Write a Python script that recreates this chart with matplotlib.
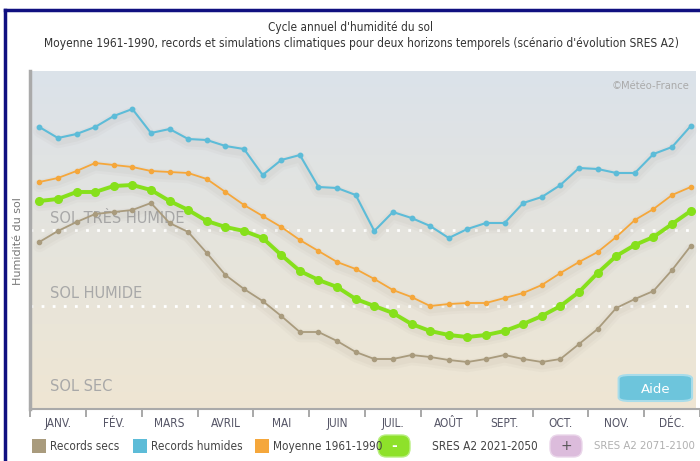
import numpy as np
import matplotlib
matplotlib.use("Agg")
import matplotlib.pyplot as plt
import matplotlib.patheffects as pe
from matplotlib.colors import LinearSegmentedColormap
from matplotlib.patches import Rectangle, FancyBboxPatch

# soil humidity index, 3 values per month (decades)
mois = ["JANV.", "FÉV.", "MARS", "AVRIL", "MAI", "JUIN", "JUIL.", "AOÛT", "SEPT.", "OCT.", "NOV.", "DÉC."]

records_humides = [282, 271, 275, 282, 293, 300, 276, 280, 270, 269, 263, 260,
                   234, 249, 254, 222, 221, 214, 178, 197, 191, 183, 171, 180,
                   186, 186, 206, 212, 224, 241, 240, 236, 236, 255, 262, 283]
moyenne = [227, 231, 238, 246, 244, 242, 238, 237, 236, 230, 217, 204,
           193, 182, 169, 158, 147, 140, 130, 119, 112, 103, 105, 106,
           106, 111, 116, 124, 136, 147, 157, 172, 189, 200, 214, 222]
sres_2021 = [208, 210, 217, 217, 223, 224, 219, 208, 199, 188, 182, 178,
             171, 154, 138, 129, 122, 110, 103, 96, 85, 78, 74, 72,
             74, 78, 85, 93, 103, 117, 136, 153, 164, 172, 185, 198]
records_secs = [167, 178, 187, 195, 197, 199, 206, 186, 177, 156, 134, 120,
                108, 93, 77, 77, 68, 57, 50, 50, 54, 52, 49, 47,
                50, 54, 50, 47, 50, 65, 80, 101, 110, 118, 139, 163]

seuils = [178.5, 103.5]
zones = ["SOL TRÈS HUMIDE", "SOL HUMIDE", "SOL SEC"]

W, H = 700, 461
fig = plt.figure(figsize=(7, 4.61), dpi=100)
fig.patch.set_facecolor("white")
cond = dict(family="DejaVu Sans", stretch="condensed")

ax = fig.add_axes([30 / W, 52 / H, 670 / W, 338 / H])
ymax = 338
xmax = 670 / 18.75
ax.set_xlim(0, xmax)
ax.set_ylim(0, ymax)

# background gradient
bg = LinearSegmentedColormap.from_list("bg", ["#efe6d3", "#e5e4dd", "#dbe2ea"])
grad = np.linspace(0, 1, 256).reshape(-1, 1)
ax.imshow(grad, aspect="auto", cmap=bg, origin="lower",
          extent=[0, xmax, 0, ymax], zorder=0)

for s in seuils:
    ax.axhline(s, color="white", lw=2, ls=(0, (1, 3)), zorder=1)

zx = 20 / 18.75
ax.text(zx, 191, zones[0], fontsize=10.5, color="#a8a8a8", va="center", zorder=1)
ax.text(zx, 116, zones[1], fontsize=10.5, color="#a8a8a8", va="center", zorder=1)
ax.text(zx, 23, zones[2], fontsize=10.5, color="#a8a8a8", va="center", zorder=1)
ax.text(0.985, 0.955, "©Météo-France", transform=ax.transAxes, ha="right",
        va="center", fontsize=8, color="#aaaaaa", **cond)

x = np.arange(36) + 0.5
series = [
    (records_secs, "#a99b7d", 1.3, 3),
    (records_humides, "#5dbcd8", 1.5, 3.2),
    (moyenne, "#f5a73b", 1.3, 3),
    (sres_2021, "#86e01b", 2.8, 5.5),
]
# soft shadows under the lines
for vals, c, lw, ms in series:
    for w, a in [(9, 0.03), (5, 0.04)]:
        ax.plot(x, vals, color="#6a6050", lw=w, alpha=a, solid_capstyle="round",
                transform=ax.transData + matplotlib.transforms.ScaledTranslation(0, -4 / 100, fig.dpi_scale_trans),
                zorder=2)
for vals, c, lw, ms in series:
    ax.plot(x, vals, color=c, lw=lw, marker="o", ms=ms, mec=c, zorder=3)

ax.set_xticks(np.arange(0, 37, 3))
ax.set_xticklabels([])
ax.set_xticks(np.arange(12) * 3 + 1.5, minor=True)
ax.set_xticklabels(mois, minor=True, fontsize=8.5, color="#555566", **cond)
ax.tick_params(axis="x", which="major", length=6, color="#999999", width=1.2)
ax.tick_params(axis="x", which="minor", length=0, pad=6)
ax.set_yticks([])
for sp in ["top", "right"]:
    ax.spines[sp].set_visible(False)
ax.spines["left"].set_color("#aaaaaa")
ax.spines["left"].set_linewidth(2.5)
ax.spines["bottom"].set_color("#aaaaaa")
ax.spines["bottom"].set_linewidth(1.5)

# Aide button
ax.add_patch(FancyBboxPatch((593 / 18.75, 8), 74 / 18.75, 26,
                            boxstyle="round,pad=0,rounding_size=0.6",
                            fc="#6dc5dc", ec="#a8dcea", lw=1.5, zorder=4,
                            mutation_aspect=6))
ax.text(630 / 18.75, 20, "Aide", color="white", fontsize=9.5,
        ha="center", va="center", zorder=5)

# titles
fig.text(350 / W, 1 - 27 / H, "Cycle annuel d'humidité du sol", ha="center",
         va="center", fontsize=8.5, color="#333333", **cond)
fig.text(361 / W, 1 - 44 / H,
         "Moyenne 1961-1990, records et simulations climatiques pour deux horizons temporels (scénario d'évolution SRES A2)",
         ha="center", va="center", fontsize=8.6, color="#333333", **cond)
fig.text(18 / W, 1 - 241 / H, "Humidité du sol", rotation=90, ha="center",
         va="center", fontsize=8, color="#777777")

# frame
fig.add_artist(plt.Line2D([5 / W, 5 / W], [0, 1 - 10 / H], color="#101080", lw=2.5))
fig.add_artist(plt.Line2D([5 / W, 1], [1 - 10 / H, 1 - 10 / H], color="#101080", lw=2.5))

# legend
ly = 1 - 446 / H
sq = 14
leg = [(32, "#a99b7d", "Records secs"), (133, "#5dbcd8", "Records humides"),
       (255, "#f5a73b", "Moyenne 1961-1990")]
for px, c, lab in leg:
    fig.add_artist(Rectangle((px / W, ly - sq / 2 / H), sq / W, sq / H,
                             fc=c, ec="none", transform=fig.transFigure))
    fig.text((px + sq + 4) / W, ly, lab, va="center", fontsize=8.5,
             color="#444444", **cond)
fig.add_artist(FancyBboxPatch((378 / W, ly - 11 / H), 32 / W, 22 / H,
                              boxstyle="round,pad=0,rounding_size=0.012",
                              fc="#8ee12a", ec="#b8ee80", lw=1,
                              transform=fig.transFigure, mutation_aspect=W / H))
fig.text(394 / W, ly, "-", ha="center", va="center", fontsize=10, color="white",
         weight="bold")
fig.text(432 / W, ly, "SRES A2 2021-2050", va="center", fontsize=8.5,
         color="#444444", **cond)
fig.add_artist(FancyBboxPatch((550 / W, ly - 11 / H), 32 / W, 22 / H,
                              boxstyle="round,pad=0,rounding_size=0.012",
                              fc="#dcbcdc", ec="#ead6ea", lw=1,
                              transform=fig.transFigure, mutation_aspect=W / H))
fig.text(566 / W, ly, "+", ha="center", va="center", fontsize=10, color="#555555")
fig.text(594 / W, ly, "SRES A2 2071-2100", va="center", fontsize=8.2,
         color="#b0b0b0", **cond)

fig.savefig("out.png", dpi=100)
